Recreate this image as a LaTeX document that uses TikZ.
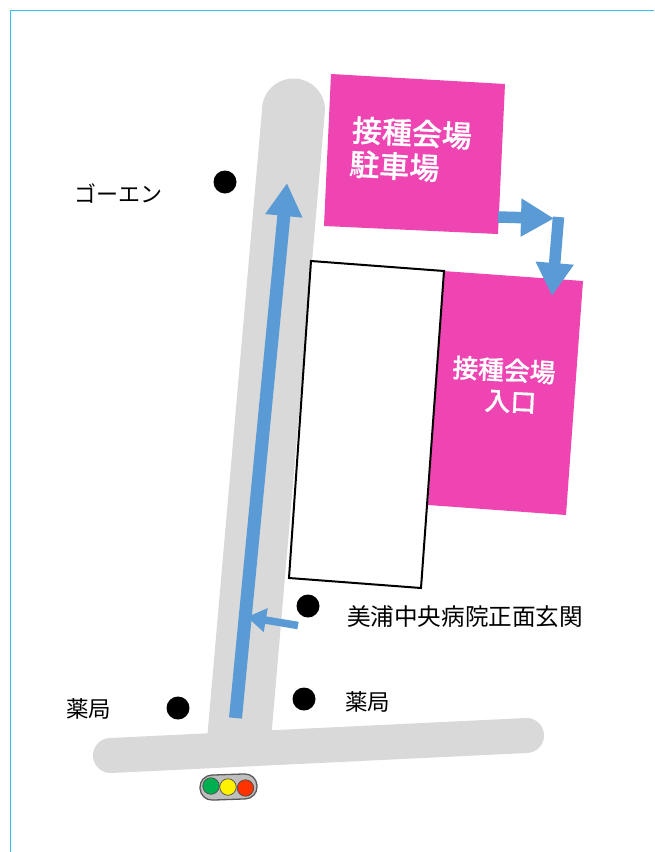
\documentclass[tikz,border=0pt]{standalone}
\usepackage{fontspec}
\setmainfont{Noto Sans CJK JP}
\newfontfamily\venuefont[FakeBold=0.5]{Noto Sans CJK JP Medium}
\usetikzlibrary{arrows.meta}
\definecolor{roadgray}{HTML}{D9D9D9}
\definecolor{venuepink}{HTML}{EE45B2}
\definecolor{routeblue}{HTML}{5B9BD5}
\definecolor{frameblue}{HTML}{00B0F0}
\definecolor{lampgreen}{HTML}{00B050}
\definecolor{lampred}{HTML}{FF3300}
\tikzset{
  road/.style={fill=roadgray,draw=none},
  venue/.style={fill=venuepink,draw=none},
  hospital/.style={fill=white,draw=black,line width=2pt,line join=miter},
  landmark/.style={circle,fill=black,draw=none,minimum size=23pt,inner sep=0pt},
  maplabel/.style={font=\fontsize{22}{24}\selectfont,inner sep=0pt,text=black},
  venuelabel/.style={font=\venuefont\fontsize{25.8}{30}\selectfont,inner sep=0pt,text=white,rotate=-3},
  routebig/.style={draw=routeblue,line width=13pt,-{Triangle[width=35pt,length=33pt]}},
  routeturn/.style={draw=routeblue,line width=11.5pt,-{Triangle[width=36pt,length=33pt]}},
  routesmall/.style={draw=routeblue,line width=7.5pt,-{Triangle[width=23pt,length=19pt]}},
  lamp/.style={circle,draw=black!70,line width=0.7pt,minimum size=16.5pt,inner sep=0pt}
}
\begin{document}
\begin{tikzpicture}[x=1pt,y=-1pt]
\useasboundingbox (0,0) rectangle (654,852);
\fill[white] (0,0) rectangle (654,852);
% frame
\draw[frameblue!80,line width=1pt] (10,852) -- (10,10) -- (654,10);
% roads
\draw[roadgray,line width=35pt,line cap=round] (110.5,755.5) -- (526.5,735.5);
\fill[road] (262,110) arc[start angle=180,end angle=360,radius=31.5] -- (271,740) -- (207,740) -- cycle;
% venues
\fill[venue] (331,74) -- (505,84) -- (498,234) -- (324,226) -- cycle;
\fill[venue] (443,271) -- (583,281) -- (566,515) -- (428,505) -- cycle;
% hospital building
\draw[hospital] (311,261) -- (444,271) -- (421,588) -- (289,578) -- cycle;
% route
\coordinate (startA) at (235.5,718);
\coordinate (tipA) at (287,183);
\draw[routebig] (startA) -- (tipA);
\coordinate (startB) at (298,625.5);
\coordinate (tipB) at (247,617);
\draw[routesmall] (startB) -- (tipB);
\coordinate (startC) at (498,217);
\coordinate (tipC) at (554,218.5);
\coordinate (startD) at (558.5,217);
\coordinate (tipD) at (552,296);
\draw[routeturn] (startC) -- (tipC);
\draw[routeturn] (startD) -- (tipD);
% landmarks
\node[landmark] (dotGoen) at (225,182) {};
\node[landmark] (dotHosp) at (308,606) {};
\node[landmark] (dotPharmR) at (304,699) {};
\node[landmark] (dotPharmL) at (178,708) {};
% labels
\node[maplabel] (goen) at (118.5,194) {ゴーエン};
\node[maplabel,font=\fontsize{22.5}{24}\selectfont] (pharmL) at (88.5,709) {薬局};
\node[maplabel,font=\fontsize{22.5}{24}\selectfont] (pharmR) at (367.5,702) {薬局};
\node[maplabel,font=\fontsize{23.6}{26}\selectfont] (entrance) at (465,616.5) {美浦中央病院正面玄関};
\node[venuelabel,font=\venuefont\fontsize{30}{34}\selectfont] (parkA) at (412,133) {接種会場};
\node[venuelabel,font=\venuefont\fontsize{30}{34}\selectfont] (parkB) at (394.5,166) {駐車場};
\node[venuelabel] (entA) at (504,370) {接種会場};
\node[venuelabel] (entB) at (510.5,402) {入口};
% traffic light
\node[draw=black!65,fill=black!25,line width=1.3pt,rounded corners=12pt,minimum width=57pt,minimum height=25pt,rotate=2,inner sep=0pt] (signal) at (228.5,787) {};
\node[lamp,fill=lampgreen] (lampG) at (211,786) {};
\node[lamp,fill=yellow] (lampY) at (228,787) {};
\node[lamp,fill=lampred] (lampR) at (245.5,788) {};
\end{tikzpicture}
\end{document}
